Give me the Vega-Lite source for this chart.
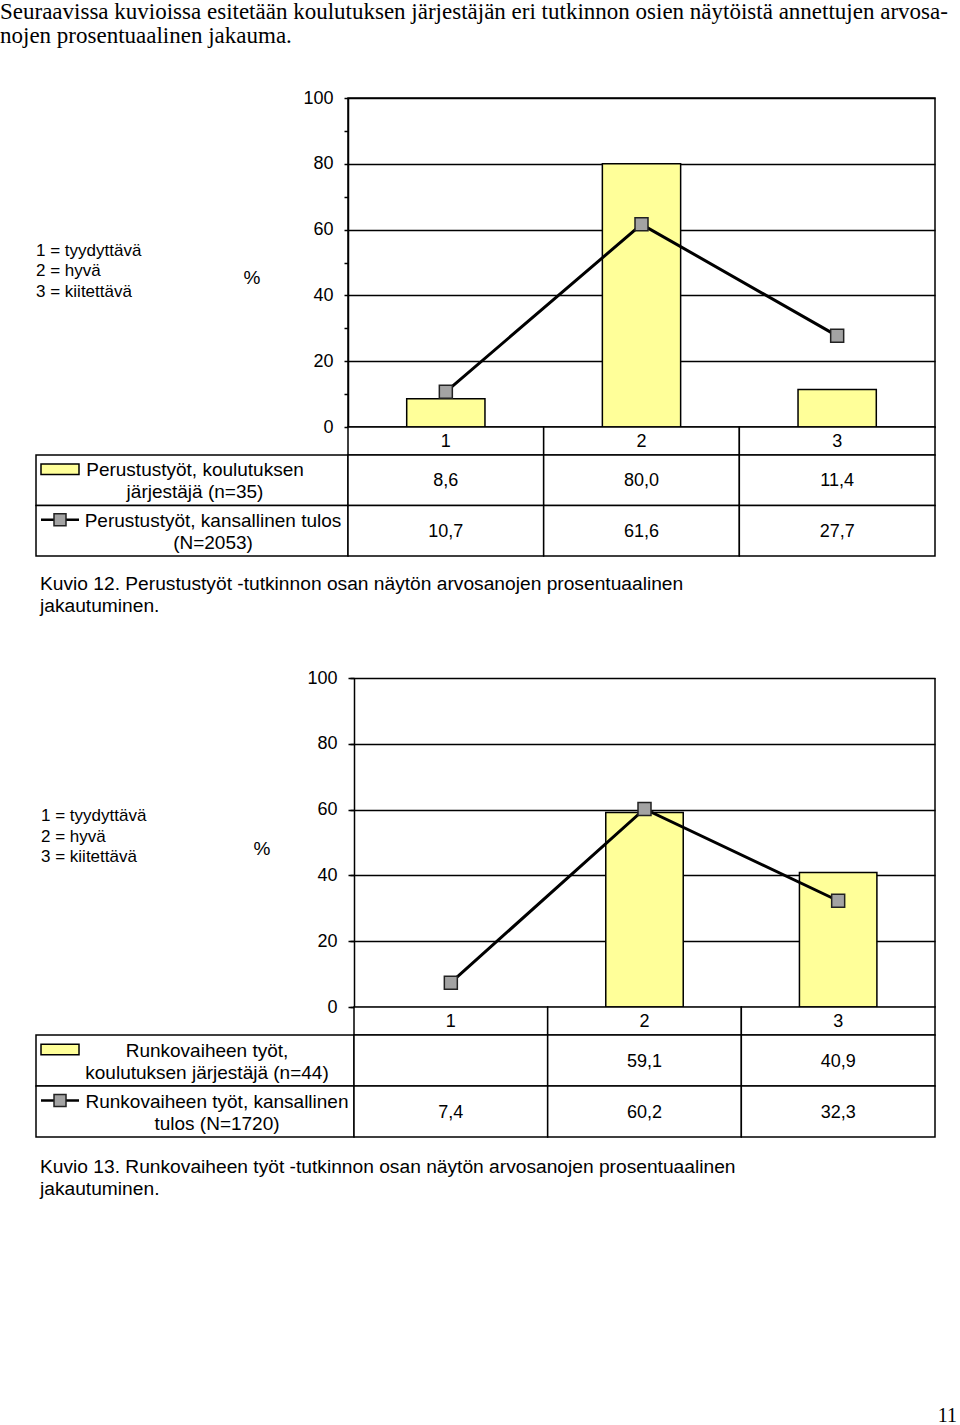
{
  "$schema": "https://vega.github.io/schema/vega-lite/v6.json",
  "padding": 0,
  "background": "white",
  "columns": 2,
  "align": "none",
  "bounds": "flush",
  "spacing": 0,
  "config": {
    "view": {"stroke": null},
    "concat": {"spacing": 0},
    "font": "Liberation Sans",
    "text": {"color": "black"},
    "locale": {"number": {"decimal": ",", "thousands": " ", "grouping": [3], "currency": ["", " €"]}}
  },
  "datasets": {
    "c1": [
      {"series": "bar", "cat": "1", "value": 8.6},
      {"series": "bar", "cat": "2", "value": 80.0},
      {"series": "bar", "cat": "3", "value": 11.4},
      {"series": "line", "cat": "1", "value": 10.7},
      {"series": "line", "cat": "2", "value": 61.6},
      {"series": "line", "cat": "3", "value": 27.7}
    ],
    "c2": [
      {"series": "bar", "cat": "1", "value": null},
      {"series": "bar", "cat": "2", "value": 59.1},
      {"series": "bar", "cat": "3", "value": 40.9},
      {"series": "line", "cat": "1", "value": 7.4},
      {"series": "line", "cat": "2", "value": 60.2},
      {"series": "line", "cat": "3", "value": 32.3}
    ],
    "leg1": [
      {"series": "bar", "label": "Perustustyöt, koulutuksen\njärjestäjä (n=35)"},
      {"series": "line", "label": "Perustustyöt, kansallinen tulos\n(N=2053)"}
    ],
    "leg2": [
      {"series": "bar", "label": "Runkovaiheen työt,\nkoulutuksen järjestäjä (n=44)"},
      {"series": "line", "label": "Runkovaiheen työt, kansallinen\ntulos (N=1720)"}
    ],
    "key": [
      {"line": 1, "text": "1 = tyydyttävä"},
      {"line": 2, "text": "2 = hyvä"},
      {"line": 3, "text": "3 = kiitettävä"}
    ],
    "pct": [{"line": 2, "text": "%"}],
    "head": [
      {"line": 1, "text": "Seuraavissa kuvioissa esitetään koulutuksen järjestäjän eri tutkinnon osien näytöistä annettujen arvosa-"},
      {"line": 2, "text": "nojen prosentuaalinen jakauma."}
    ],
    "cap1": [
      {"line": 1, "text": "Kuvio 12. Perustustyöt -tutkinnon osan näytön arvosanojen prosentuaalinen"},
      {"line": 2, "text": "jakautuminen."}
    ],
    "cap2": [
      {"line": 1, "text": "Kuvio 13. Runkovaiheen  työt -tutkinnon osan näytön arvosanojen prosentuaalinen"},
      {"line": 2, "text": "jakautuminen."}
    ],
    "page": [{"text": "11"}]
  },
  "concat": [
    {
      "width": 348, "height": 98,
      "data": {"name": "head"},
      "mark": {"type": "text", "align": "left", "baseline": "middle", "font": "Liberation Serif", "fontSize": 23},
      "encoding": {
        "x": {"datum": "h", "type": "nominal", "scale": {"type": "point", "align": 0}, "axis": null},
        "y": {"field": "line", "type": "quantitative", "scale": {"domain": [0.5, 4.5833], "reverse": true, "zero": false, "nice": false}, "axis": null},
        "text": {"field": "text"}
      }
    },
    {"width": 587, "height": 98, "data": {"values": [{}]}, "mark": {"type": "point", "opacity": 0}},
    {
      "width": 348, "height": 329,
      "layer": [
        {
          "data": {"name": "key"},
          "mark": {"type": "text", "align": "left", "baseline": "middle", "fontSize": 17},
          "encoding": {
            "x": {"datum": "k", "type": "nominal", "scale": {"type": "point", "align": 0.10345}, "axis": null},
            "y": {"field": "line", "type": "quantitative", "scale": {"domain": [-6.463, 9.586], "reverse": true, "zero": false, "nice": false}, "axis": null},
            "text": {"field": "text"}
          }
        },
        {
          "data": {"name": "pct"},
          "mark": {"type": "text", "align": "center", "baseline": "middle", "fontSize": 19, "dy": 6.5},
          "encoding": {
            "x": {"datum": "p", "type": "nominal", "scale": {"type": "point", "align": 0.7241}, "axis": null},
            "y": {"field": "line", "type": "quantitative", "scale": {"domain": [-6.463, 9.586], "reverse": true, "zero": false, "nice": false}, "axis": null},
            "text": {"field": "text"}
          }
        }
      ],
      "resolve": {"scale": {"x": "independent"}}
    },
    {
      "width": 587, "height": 329,
      "view": {"stroke": "black", "strokeWidth": 1.5},
      "data": {"name": "c1"},
      "encoding": {
        "x": {"field": "cat", "type": "nominal", "scale": {"domain": ["1", "2", "3"], "paddingInner": 0, "paddingOuter": 0}, "axis": null},
        "y": {
          "field": "value", "type": "quantitative",
          "scale": {"domain": [0, 100], "nice": false},
          "axis": {
            "values": [0, 10, 20, 30, 40, 50, 60, 70, 80, 90, 100],
            "labelExpr": "datum.value % 20 === 0 ? datum.label : ''",
            "grid": true, "gridColor": "black", "gridWidth": 1.5,
            "gridOpacity": {"condition": {"test": "datum.value % 20 === 0", "value": 1}, "value": 0},
            "domainColor": "black", "domainWidth": 1.5,
            "tickColor": "black", "tickWidth": 1.5, "tickSize": 4,
            "labelFontSize": 18, "labelColor": "black", "labelPadding": 11, "labelFont": "Liberation Sans",
            "title": null
          }
        }
      },
      "layer": [
        {"transform": [{"filter": "datum.series === 'bar'"}], "mark": {"type": "bar", "width": {"band": 0.4}, "fill": "#FFFF99", "stroke": "black", "strokeWidth": 1.5}},
        {"transform": [{"filter": "datum.series === 'line'"}], "mark": {"type": "line", "color": "black", "strokeWidth": 3}},
        {"transform": [{"filter": "datum.series === 'line'"}], "mark": {"type": "point", "shape": "square", "size": 169, "filled": true, "fill": "#A3A3A3", "stroke": "#222222", "strokeWidth": 1.5, "opacity": 1}}
      ]
    },
    {"width": 348, "height": 28, "data": {"values": [{}]}, "mark": {"type": "point", "opacity": 0}},
    {
      "width": 587, "height": 28,
      "data": {"name": "c1"},
      "transform": [{"filter": "datum.series === 'line'"}],
      "encoding": {"x": {"field": "cat", "type": "nominal", "scale": {"domain": ["1", "2", "3"], "paddingInner": 0, "paddingOuter": 0}, "axis": null}},
      "layer": [
        {"mark": {"type": "rect", "fill": "white", "stroke": "black", "strokeWidth": 1.5}},
        {"mark": {"type": "text", "fontSize": 18, "baseline": "middle", "dy": 1}, "encoding": {"text": {"field": "cat"}}}
      ]
    },
    {
      "width": 348, "height": 101,
      "data": {"name": "leg1"},
      "encoding": {
        "x": {"datum": "cell", "type": "nominal", "scale": {"type": "band", "paddingInner": 0, "paddingOuter": 0.0577, "align": 1}, "axis": null},
        "y": {"field": "series", "type": "nominal", "scale": {"domain": ["bar", "line"], "paddingInner": 0, "paddingOuter": 0}, "axis": null}
      },
      "layer": [
        {"mark": {"type": "rect", "fill": "white", "stroke": "black", "strokeWidth": 1.5}},
        {"transform": [{"filter": "datum.series === 'bar'"}], "mark": {"type": "point", "shape": "M-1,-0.27H1V0.27H-1Z", "size": 1444, "filled": true, "fill": "#FFFF99", "stroke": "black", "strokeWidth": 1.5, "opacity": 1, "yOffset": -11}, "encoding": {"x": {"datum": "cell", "type": "nominal", "bandPosition": 0.0769}}},
        {"transform": [{"filter": "datum.series === 'line'"}], "mark": {"type": "point", "shape": "M-1,0H1", "size": 1444, "filled": false, "stroke": "black", "strokeWidth": 2.5, "opacity": 1, "yOffset": -11}, "encoding": {"x": {"datum": "cell", "type": "nominal", "bandPosition": 0.0769}}},
        {"transform": [{"filter": "datum.series === 'line'"}], "mark": {"type": "point", "shape": "square", "size": 144, "filled": true, "fill": "#A3A3A3", "stroke": "#222222", "strokeWidth": 1.5, "opacity": 1, "yOffset": -11}, "encoding": {"x": {"datum": "cell", "type": "nominal", "bandPosition": 0.0769}}},
        {"transform": [{"filter": "datum.series === 'bar'"}], "mark": {"type": "text", "fontSize": 19, "baseline": "middle", "lineBreak": "\n", "lineHeight": 22, "dx": 3, "dy": -10}, "encoding": {"text": {"field": "label"}}},
        {"transform": [{"filter": "datum.series === 'line'"}], "mark": {"type": "text", "fontSize": 19, "baseline": "middle", "lineBreak": "\n", "lineHeight": 22, "dx": 21, "dy": -10}, "encoding": {"text": {"field": "label"}}}
      ]
    },
    {
      "width": 587, "height": 101,
      "data": {"name": "c1"},
      "encoding": {
        "x": {"field": "cat", "type": "nominal", "scale": {"domain": ["1", "2", "3"], "paddingInner": 0, "paddingOuter": 0}, "axis": null},
        "y": {"field": "series", "type": "nominal", "scale": {"domain": ["bar", "line"], "paddingInner": 0, "paddingOuter": 0}, "axis": null}
      },
      "layer": [
        {"mark": {"type": "rect", "fill": "white", "stroke": "black", "strokeWidth": 1.5}},
        {"transform": [{"filter": "isValid(datum.value)"}], "mark": {"type": "text", "fontSize": 18, "baseline": "middle", "dy": 1}, "encoding": {"text": {"field": "value", "type": "quantitative", "format": ".1f"}}}
      ]
    },
    {
      "width": 348, "height": 122,
      "data": {"name": "cap1"},
      "mark": {"type": "text", "align": "left", "baseline": "middle", "fontSize": 19.2},
      "encoding": {
        "x": {"datum": "c", "type": "nominal", "scale": {"type": "point", "align": 0.1149}, "axis": null},
        "y": {"field": "line", "type": "quantitative", "scale": {"domain": [-0.2727, 5.2727], "reverse": true, "zero": false, "nice": false}, "axis": null},
        "text": {"field": "text"}
      }
    },
    {"width": 587, "height": 122, "data": {"values": [{}]}, "mark": {"type": "point", "opacity": 0}},
    {
      "width": 348, "height": 329,
      "layer": [
        {
          "data": {"name": "key"},
          "mark": {"type": "text", "align": "left", "baseline": "middle", "fontSize": 17},
          "encoding": {
            "x": {"datum": "k", "type": "nominal", "scale": {"type": "point", "align": 0.11782}, "axis": null},
            "y": {"field": "line", "type": "quantitative", "scale": {"domain": [-5.7317, 10.317], "reverse": true, "zero": false, "nice": false}, "axis": null},
            "text": {"field": "text"}
          }
        },
        {
          "data": {"name": "pct"},
          "mark": {"type": "text", "align": "center", "baseline": "middle", "fontSize": 19, "dy": 12.5},
          "encoding": {
            "x": {"datum": "p", "type": "nominal", "scale": {"type": "point", "align": 0.75287}, "axis": null},
            "y": {"field": "line", "type": "quantitative", "scale": {"domain": [-5.7317, 10.317], "reverse": true, "zero": false, "nice": false}, "axis": null},
            "text": {"field": "text"}
          }
        }
      ],
      "resolve": {"scale": {"x": "independent"}}
    },
    {
      "width": 587, "height": 329,
      "data": {"name": "c2"},
      "encoding": {
        "x": {"field": "cat", "type": "nominal", "scale": {"domain": ["1", "2", "3"], "paddingInner": 0, "paddingOuter": 0.0155, "align": 1}, "axis": null}
      },
      "layer": [
        {
          "transform": [{"filter": "datum.series === 'bar' && isValid(datum.value)"}],
          "mark": {"type": "bar", "width": {"band": 0.4}, "fill": "#FFFF99", "stroke": "black", "strokeWidth": 1.5},
          "encoding": {
            "y": {
              "field": "value", "type": "quantitative",
              "scale": {"domain": [0, 100], "nice": false},
              "axis": {
                "values": [0, 10, 20, 30, 40, 50, 60, 70, 80, 90, 100],
                "labelExpr": "datum.value % 20 === 0 ? datum.label : ''",
                "offset": -6,
                "grid": true, "gridColor": "black", "gridWidth": 1.5,
                "gridOpacity": {"condition": {"test": "datum.value % 20 === 0", "value": 1}, "value": 0},
                "domainColor": "black", "domainWidth": 1.5,
                "tickColor": "black", "tickWidth": 1.5, "tickSize": 4,
                "labelFontSize": 18, "labelColor": "black", "labelPadding": 13, "labelFont": "Liberation Sans",
                "title": null
              }
            }
          }
        },
        {"transform": [{"filter": "datum.series === 'line'"}], "mark": {"type": "line", "color": "black", "strokeWidth": 3}, "encoding": {"y": {"field": "value", "type": "quantitative"}}},
        {"transform": [{"filter": "datum.series === 'line'"}], "mark": {"type": "point", "shape": "square", "size": 169, "filled": true, "fill": "#A3A3A3", "stroke": "#222222", "strokeWidth": 1.5, "opacity": 1}, "encoding": {"y": {"field": "value", "type": "quantitative"}}},
        {"transform": [{"filter": "datum.series === 'line' && datum.cat === '3'"}], "mark": {"type": "rule", "color": "black", "strokeWidth": 1.5}, "encoding": {"x": {"datum": "3", "type": "nominal", "bandPosition": 1}}}
      ]
    },
    {"width": 348, "height": 28, "data": {"values": [{}]}, "mark": {"type": "point", "opacity": 0}},
    {
      "width": 587, "height": 28,
      "data": {"name": "c2"},
      "transform": [{"filter": "datum.series === 'line'"}],
      "encoding": {"x": {"field": "cat", "type": "nominal", "scale": {"domain": ["1", "2", "3"], "paddingInner": 0, "paddingOuter": 0.0155, "align": 1}, "axis": null}},
      "layer": [
        {"mark": {"type": "rect", "fill": "white", "stroke": "black", "strokeWidth": 1.5}},
        {"mark": {"type": "text", "fontSize": 18, "baseline": "middle", "dy": 1}, "encoding": {"text": {"field": "cat"}}}
      ]
    },
    {
      "width": 348, "height": 102,
      "data": {"name": "leg2"},
      "encoding": {
        "y": {"field": "series", "type": "nominal", "scale": {"domain": ["bar", "line"], "paddingInner": 0, "paddingOuter": 0}, "axis": null}
      },
      "layer": [
        {"mark": {"type": "rect", "fill": "white", "stroke": "black", "strokeWidth": 1.5}, "encoding": {"x": {"datum": 0, "type": "quantitative", "scale": {"domain": [-0.11321, 0.98113], "zero": false, "nice": false}, "axis": null}, "x2": {"datum": 1}}},
        {"transform": [{"filter": "datum.series === 'bar'"}], "mark": {"type": "point", "shape": "M-1,-0.27H1V0.27H-1Z", "size": 1444, "filled": true, "fill": "#FFFF99", "stroke": "black", "strokeWidth": 1.5, "opacity": 1, "yOffset": -11}, "encoding": {"x": {"datum": 0.0755, "type": "quantitative"}}},
        {"transform": [{"filter": "datum.series === 'line'"}], "mark": {"type": "point", "shape": "M-1,0H1", "size": 1444, "filled": false, "stroke": "black", "strokeWidth": 2.5, "opacity": 1, "yOffset": -11}, "encoding": {"x": {"datum": 0.0755, "type": "quantitative"}}},
        {"transform": [{"filter": "datum.series === 'line'"}], "mark": {"type": "point", "shape": "square", "size": 144, "filled": true, "fill": "#A3A3A3", "stroke": "#222222", "strokeWidth": 1.5, "opacity": 1, "yOffset": -11}, "encoding": {"x": {"datum": 0.0755, "type": "quantitative"}}},
        {"transform": [{"filter": "datum.series === 'bar'"}], "mark": {"type": "text", "fontSize": 19, "baseline": "middle", "lineBreak": "\n", "lineHeight": 22, "dx": 12, "dy": -10}, "encoding": {"x": {"datum": 0.5, "type": "quantitative"}, "text": {"field": "label"}}},
        {"transform": [{"filter": "datum.series === 'line'"}], "mark": {"type": "text", "fontSize": 19, "baseline": "middle", "lineBreak": "\n", "lineHeight": 22, "dx": 22, "dy": -10}, "encoding": {"x": {"datum": 0.5, "type": "quantitative"}, "text": {"field": "label"}}}
      ]
    },
    {
      "width": 587, "height": 102,
      "data": {"name": "c2"},
      "encoding": {
        "x": {"field": "cat", "type": "nominal", "scale": {"domain": ["1", "2", "3"], "paddingInner": 0, "paddingOuter": 0.0155, "align": 1}, "axis": null},
        "y": {"field": "series", "type": "nominal", "scale": {"domain": ["bar", "line"], "paddingInner": 0, "paddingOuter": 0}, "axis": null}
      },
      "layer": [
        {"mark": {"type": "rect", "fill": "white", "stroke": "black", "strokeWidth": 1.5}},
        {"transform": [{"filter": "isValid(datum.value)"}], "mark": {"type": "text", "fontSize": 18, "baseline": "middle", "dy": 1}, "encoding": {"text": {"field": "value", "type": "quantitative", "format": ".1f"}}}
      ]
    },
    {
      "width": 348, "height": 288,
      "data": {"name": "cap2"},
      "mark": {"type": "text", "align": "left", "baseline": "middle", "fontSize": 19.2},
      "encoding": {
        "x": {"datum": "c", "type": "nominal", "scale": {"type": "point", "align": 0.11494}, "axis": null},
        "y": {"field": "line", "type": "quantitative", "scale": {"domain": [-0.3636, 12.7273], "reverse": true, "zero": false, "nice": false}, "axis": null},
        "text": {"field": "text"}
      }
    },
    {
      "width": 612, "height": 288,
      "data": {"name": "page"},
      "mark": {"type": "text", "align": "right", "baseline": "middle", "font": "Liberation Serif", "fontSize": 20},
      "encoding": {
        "x": {"datum": "p", "type": "nominal", "scale": {"type": "point", "align": 0.9951}, "axis": null},
        "y": {"datum": "p", "type": "nominal", "scale": {"type": "point", "align": 0.96875}, "axis": null},
        "text": {"field": "text"}
      }
    }
  ]
}
